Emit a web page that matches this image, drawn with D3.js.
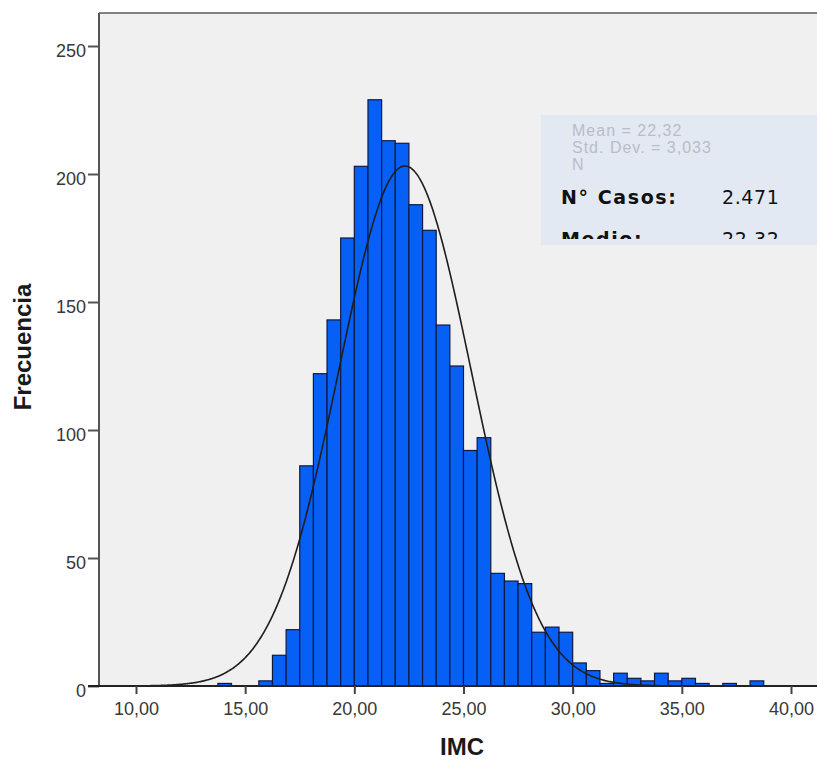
<!DOCTYPE html>
<html>
<head>
<meta charset="utf-8">
<script src="https://cdn.jsdelivr.net/npm/d3@7"></script>
<style>
  html, body { margin: 0; padding: 0; background: #ffffff; }
  svg { display: block; }
</style>
</head>
<body>
<div id="chart"></div>
<script>
// ---- data ----
const binStarts = [13.75, 14.375, 15.0, 15.625, 16.25, 16.875, 17.5, 18.125, 18.75, 19.375,
                   20.0, 20.625, 21.25, 21.875, 22.5, 23.125, 23.75, 24.375, 25.0, 25.625,
                   26.25, 26.875, 27.5, 28.125, 28.75, 29.375, 30.0, 30.625, 31.25, 31.875,
                   32.5, 33.125, 33.75, 34.375, 35.0, 35.625, 36.25, 36.875, 37.5, 38.125];
const counts    = [1, 0, 0, 2, 12, 22, 86, 122, 143, 175,
                   203, 229, 213, 212, 188, 178, 141, 125, 92, 97,
                   44, 41, 40, 21, 23, 21, 9, 6, 1, 5,
                   3, 2, 5, 2, 3, 1, 0, 1, 0, 2];
const binWidth = 0.625;
const xTicks = [10, 15, 20, 25, 30, 35, 40];
const yTicks = [0, 50, 100, 150, 200, 250];
const stats = { mean: 22.32, sd: 3.033, n: 2471 };
const statLines = ["Mean = 22,32", "Std. Dev. = 3,033", "N"];
const summaryLabels = ["N° Casos:", "Medio:"];
const summaryValues = ["2.471", "22,32"];
const xTitle = "IMC";
const yTitle = "Frecuencia";

// ---- layout ----
const W = 817, H = 760;
const plot = { left: 99, top: 13, right: 817, bottom: 686 };

const svg = d3.select("#chart").append("svg")
  .attr("width", W).attr("height", H)
  .style("font-family", "'Liberation Sans', Arial, sans-serif");

const x = d3.scaleLinear().domain([10, 40]).range([136, 791]);
const y = d3.scaleLinear().domain([0, 250]).range([686, 46]);

// plot background
svg.append("rect")
  .attr("x", plot.left).attr("y", plot.top)
  .attr("width", plot.right - plot.left).attr("height", plot.bottom - plot.top)
  .attr("fill", "#f0f0f0");

svg.append("clipPath").attr("id", "plotclip").append("rect")
  .attr("x", plot.left).attr("y", plot.top)
  .attr("width", plot.right - plot.left).attr("height", plot.bottom - plot.top);

const bars = binStarts.map((b, i) => ({ x0: b, x1: b + binWidth, c: counts[i] }))
  .filter(d => d.c > 0);

const g = svg.append("g").attr("clip-path", "url(#plotclip)");

g.selectAll("rect.bar").data(bars).join("rect")
  .attr("class", "bar")
  .attr("x", d => x(d.x0))
  .attr("y", d => y(d.c))
  .attr("width", d => x(d.x1) - x(d.x0))
  .attr("height", d => y(0) - y(d.c))
  .attr("fill", "#0760f6")
  .attr("stroke", "#0f1a40")
  .attr("stroke-width", 1.2);

// fitted normal curve
const scaleN = stats.n * binWidth / (stats.sd * Math.sqrt(2 * Math.PI));
const curveX = d3.range(8.2, 41.5, 0.05);
const line = d3.line()
  .x(v => x(v))
  .y(v => y(scaleN * Math.exp(-0.5 * Math.pow((v - stats.mean) / stats.sd, 2))))
  .curve(d3.curveBasis);
g.append("path").datum(curveX)
  .attr("d", line)
  .attr("fill", "none")
  .attr("stroke", "#1e1e1e")
  .attr("stroke-width", 1.6);

// top border
svg.append("line")
  .attr("x1", plot.left).attr("x2", plot.right)
  .attr("y1", plot.top).attr("y2", plot.top)
  .attr("stroke", "#5a5a5a").attr("stroke-width", 1.6);

// y axis
const yAxis = d3.axisLeft(y).tickValues(yTicks).tickSize(11).tickPadding(2)
  .tickFormat(d3.format("d"));
const yg = svg.append("g").attr("transform", `translate(${plot.left},0)`).call(yAxis);
yg.select(".domain").attr("d", `M0,${plot.top}V${plot.bottom}`)
  .attr("stroke", "#555").attr("stroke-width", 2);
yg.selectAll(".tick line").attr("stroke", "#555").attr("stroke-width", 2);
yg.selectAll(".tick text")
  .attr("font-size", 18).attr("fill", "#383838")
  .attr("font-family", "'Liberation Sans', Arial, sans-serif")
  .attr("dy", "0.6em");

// x axis
const xAxis = d3.axisBottom(x).tickValues(xTicks).tickSize(8).tickPadding(8)
  .tickFormat(d => d3.format(".2f")(d).replace(".", ","));
const xg = svg.append("g").attr("transform", `translate(0,${plot.bottom})`).call(xAxis);
xg.select(".domain").attr("d", `M${plot.left - 11},0H${plot.right}`)
  .attr("stroke", "#222").attr("stroke-width", 2);
xg.selectAll(".tick line").attr("stroke", "#444").attr("stroke-width", 2);
xg.selectAll(".tick text")
  .attr("font-size", 18).attr("fill", "#383838")
  .attr("font-family", "'Liberation Sans', Arial, sans-serif");

// axis titles
svg.append("text")
  .attr("x", 462).attr("y", 755)
  .attr("text-anchor", "middle")
  .attr("font-size", 24).attr("font-weight", "bold").attr("fill", "#1a1a1a")
  .text(xTitle);
svg.append("text")
  .attr("transform", "translate(31,347) rotate(-90)")
  .attr("text-anchor", "middle")
  .attr("font-size", 24).attr("font-weight", "bold").attr("fill", "#1a1a1a")
  .text(yTitle);

// legend / stats box
const box = { x: 541, y: 115, w: 290, h: 130 };
svg.append("rect")
  .attr("x", box.x).attr("y", box.y).attr("width", box.w).attr("height", box.h)
  .attr("fill", "#e3e9f2");
svg.append("clipPath").attr("id", "boxclip").append("rect")
  .attr("x", box.x).attr("y", box.y).attr("width", box.w).attr("height", 124);
const lg = svg.append("g").attr("clip-path", "url(#boxclip)");
lg.selectAll("text.stat").data(statLines).join("text")
  .attr("class", "stat")
  .attr("x", 572).attr("y", (d, i) => 136 + i * 17)
  .attr("font-size", 16).attr("fill", "#b9bdc5")
  .attr("letter-spacing", 1)
  .text(d => d);
lg.selectAll("text.slabel").data(summaryLabels).join("text")
  .attr("class", "slabel")
  .attr("x", 561).attr("y", (d, i) => 204 + i * 42)
  .attr("font-family", "'DejaVu Sans', Verdana, sans-serif")
  .attr("font-size", 19).attr("font-weight", "bold").attr("fill", "#111")
  .attr("letter-spacing", 1.6)
  .text(d => d);
lg.selectAll("text.svalue").data(summaryValues).join("text")
  .attr("class", "svalue")
  .attr("x", 722).attr("y", (d, i) => 204 + i * 42)
  .attr("font-family", "'DejaVu Sans', Verdana, sans-serif")
  .attr("font-size", 19).attr("fill", "#111")
  .attr("letter-spacing", 0.6)
  .text(d => d);
</script>
</body>
</html>
